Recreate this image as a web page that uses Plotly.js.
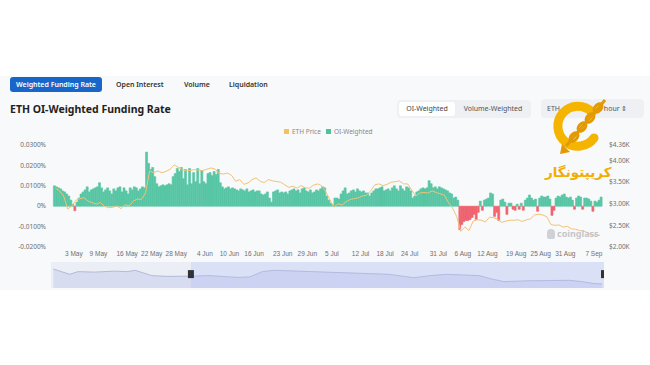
<!DOCTYPE html>
<html>
<head>
<meta charset="utf-8">
<script src="https://cdn.plot.ly/plotly-3.0.1.min.js"></script>
<style>
  html, body { margin:0; padding:0; width:650px; height:365px; background:#ffffff; overflow:hidden; font-family:"Noto Sans", "Inter", sans-serif; }
  #panel { position:absolute; left:0; top:76px; width:650px; height:214px; background:#f8f9fa; }
  #chart { position:absolute; left:0; top:0; width:650px; height:365px; }
  .ov { position:absolute; white-space:nowrap; }
  .tab { position:absolute; top:77px; height:15px; line-height:15px; font-size:7px; font-weight:600; color:#333; }
  #tab1 { left:10px; width:92px; background:#1866c9; color:#fff; border-radius:3px; text-align:center; }
  #title { left:10px; top:102px; font-size:10.5px; font-weight:700; color:#222; }
  #toggle { left:397px; top:100px; width:134px; height:18px; background:#eef0f3; border-radius:4px; }
  #tg1 { position:absolute; left:2px; top:2px; width:56px; height:14px; line-height:14px; background:#fff; border-radius:3px; font-size:7px; color:#444; text-align:center; }
  #tg2 { position:absolute; left:62px; top:2px; width:68px; height:14px; line-height:14px; font-size:7px; color:#555; text-align:center; }
  .sel { position:absolute; top:99px; height:19px; line-height:19px; background:#eef0f3; border-radius:4px; font-size:7px; color:#555; }
  #legend { left:284px; top:127px; font-size:6.5px; color:#888; }
  .sq { display:inline-block; width:5px; height:5px; vertical-align:middle; margin-right:3px; position:relative; top:-1px; }
  #brand { left:545px; top:165px; font-size:13.5px; line-height:14px; font-weight:700; color:#f2ae00; font-family:"DejaVu Sans", "Noto Sans", sans-serif; direction:rtl; }
  #cg { left:547px; top:227px; font-size:9px; font-weight:700; color:#c4c6c9; }
</style>
</head>
<body>
<div id="panel"></div>
<div id="chart"></div>

<div class="tab" id="tab1">Weighted Funding Rate</div>
<div class="tab" style="left:116px;">Open Interest</div>
<div class="tab" style="left:184px;">Volume</div>
<div class="tab" style="left:229px;">Liquidation</div>
<div class="ov" id="title">ETH OI-Weighted Funding Rate</div>
<div class="ov" id="toggle"><div id="tg1">OI-Weighted</div><div id="tg2">Volume-Weighted</div></div>
<div class="sel" style="left:541px; width:46px; padding-left:6px;">ETH</div>
<div class="sel" style="left:592px; width:46px; padding-left:6px;">8 hour &#8661;</div>
<div class="ov" id="legend"><span class="sq" style="background:#f3c063;"></span>ETH Price&nbsp;&nbsp;&nbsp;<span class="sq" style="background:#4cc29d;"></span>OI-Weighted</div>

<svg class="ov" style="left:548px; top:94px;" width="64" height="62" viewBox="0 0 64 62">
  <path d="M44 18 A20 20 0 1 0 46 44" fill="none" stroke="#f4b400" stroke-width="9" stroke-linecap="round"/>
  <g stroke="#e39a00" stroke-width="3" fill="none">
    <line x1="57" y1="6" x2="18" y2="52"/>
    <ellipse cx="50" cy="14" rx="5" ry="3" transform="rotate(-50 50 14)"/>
    <ellipse cx="42" cy="24" rx="5" ry="3" transform="rotate(-50 42 24)"/>
    <ellipse cx="34" cy="33" rx="5" ry="3" transform="rotate(-50 34 33)"/>
    <ellipse cx="26" cy="43" rx="5" ry="3" transform="rotate(-50 26 43)"/>
  </g>
  <polygon points="14,50 22,58 12,60" fill="#e39a00"/>
</svg>
<div class="ov" id="brand">کریپتونگار</div>
<div class="ov" id="cg"><span style="display:inline-block;width:8px;height:10px;background:#cfd1d4;border-radius:4px 4px 2px 2px;margin-right:2px;vertical-align:middle;position:relative;top:-1px;"></span>coinglass</div>

<script>
// ---- data ----
const fundingStart = '2024-04-28T06:00:00Z'; // first 12h bucket centre
const fundingRate = [
 0.0100,0.0095, 0.0090,0.0085, 0.0075,0.0070, 0.0060,0.0050, 0.0030,0.0010,
 -0.0022,0.0020, 0.0040,0.0060, 0.0070,0.0080, 0.0095,0.0070, 0.0080,0.0085,
 0.0090,0.0095, 0.0115,0.0090, 0.0070,0.0080, 0.0090,0.0075, 0.0060,0.0085,
 0.0075,0.0090, 0.0095,0.0070, 0.0090,0.0075, 0.0060,0.0090, 0.0080,0.0095,
 0.0090,0.0075, 0.0085,0.0095, 0.0090,0.0265, 0.0210,0.0180, 0.0190,0.0145,
 0.0110,0.0095, 0.0100,0.0105, 0.0100,0.0105, 0.0110,0.0105, 0.0145,0.0160,
 0.0185,0.0170, 0.0190,0.0135, 0.0180,0.0105, 0.0185,0.0110,
 0.0165,0.0120, 0.0185,0.0110, 0.0175,0.0120, 0.0110,0.0160, 0.0165,0.0150,
 0.0170,0.0155, 0.0180,0.0115, 0.0095,0.0085, 0.0090,0.0095, 0.0085,0.0090,
 0.0085,0.0080, 0.0075,0.0085, 0.0080,0.0075, 0.0085,0.0070, 0.0075,0.0080,
 0.0070,0.0075, 0.0075,0.0060, 0.0055,0.0060, 0.0070,0.0040, 0.0020,0.0070,
 0.0075,0.0080, 0.0065,0.0070, 0.0065,0.0070, 0.0060,0.0075, 0.0080,0.0085,
 0.0075,0.0080, 0.0065,0.0085, 0.0090,0.0075, 0.0070,0.0080, 0.0065,0.0070,
 0.0080,0.0075, 0.0085,0.0095, 0.0090,0.0050, 0.0030,0.0015, 0.0005,0.0040,
 0.0040,0.0035, 0.0060,0.0075, 0.0090,0.0060, 0.0065,0.0075, 0.0080,0.0070,
 0.0085,0.0075, 0.0070,0.0075, 0.0065,0.0065, 0.0050,0.0065, 0.0075,0.0085,
 0.0085,0.0090, 0.0095,0.0075, 0.0080,0.0085, 0.0075,0.0090, 0.0100,0.0085,
 0.0075,0.0100, 0.0085,0.0075, 0.0095,0.0090, 0.0075,0.0040, 0.0050,0.0070,
 0.0075,0.0085, 0.0090,0.0085, 0.0090,0.0125, 0.0110,0.0090, 0.0095,0.0085,
 0.0095,0.0090,
 0.0085,0.0080, 0.0075,0.0065, 0.0060,0.0040, 0.0045,0.0030, -0.0115,-0.0090,
 -0.0075,-0.0070, -0.0070,-0.0065, -0.0055,-0.0040, -0.0065,-0.0030, 0.0025,-0.0020,
 0.0030,0.0035, 0.0040,0.0065, 0.0060,-0.0050, -0.0030,-0.0070, 0.0030,0.0035,
 0.0020,-0.0040, 0.0015,0.0015, -0.0015,-0.0020, 0.0010,-0.0015, 0.0015,-0.0020,
 0.0030,0.0040, 0.0055,0.0040, 0.0030,0.0035, -0.0025,0.0040, 0.0050,0.0045,
 0.0045,0.0050, 0.0035,-0.0045, -0.0020,0.0040, 0.0050,0.0045, 0.0055,0.0060,
 0.0045,0.0040,
 0.0045,0.0030, -0.0015,0.0040, 0.0050,0.0045, -0.0015,0.0040, 0.0040,0.0035,
 0.0025,-0.0025, 0.0025,0.0020, 0.0030,0.0045
];
const priceStart = '2024-04-28T12:00:00Z';
const ethPrice = [
 3360,3300,3180,
 2880,2950,3080,3120,3140,3060,3020,2990,3030,2940,2910,2920,2950,2890,2980,2950,3060,3110,3100,3250,3760,3720,3760,3720,3750,3800,3900,3850,3790,3760,3770,
 3790,3780,3770,3800,3830,3800,3700,3690,3710,3660,3520,3560,3450,3480,3560,3600,3520,3490,3560,3530,3520,3500,3440,3380,3410,3360,3420,3370,3360,3430,
 3460,3420,3280,3080,2920,3000,2970,3050,3100,3120,3140,3180,3200,3300,3440,3460,3420,3450,3500,3510,3530,3460,3460,3320,3180,3250,3260,3250,3300,3260,3230,
 3200,3020,2900,2700,2360,2460,2380,2600,2630,2620,2580,2690,2680,2640,2570,2600,2620,2620,2630,2590,2630,2650,2740,2760,2740,2700,2520,2500,2510,2460,2480,
 2420,2410,2380,2370,2330,2270,2280,2270
];
const sliderDates = ['2024-04-28','2024-04-30','2024-05-02','2024-05-04','2024-05-08','2024-05-13','2024-05-16','2024-05-18','2024-05-20','2024-05-22','2024-05-26','2024-05-31',
 '2024-06-02','2024-06-05','2024-06-09','2024-06-12','2024-06-15','2024-06-18','2024-06-21','2024-06-25','2024-07-01','2024-07-07','2024-07-13','2024-07-19','2024-07-25','2024-07-29',
 '2024-08-02','2024-08-06','2024-08-10','2024-08-13','2024-08-16','2024-08-22','2024-08-28','2024-09-01','2024-09-04','2024-09-07','2024-09-09'];
const sliderTrend = [19,16.4,13.7,16.4,15.9,16.9,16.4,17.7,15,12.4,11.6,12.4,
 12,12.4,11.1,10.6,11.1,16.4,17.7,17.2,16.4,15.9,15,13.7,10.3,12.4,
 13.7,13.2,12.4,9,6.4,7.2,7.2,7.7,6.4,4.5,4];
const xTickDates = ['2024-05-03','2024-05-09','2024-05-16','2024-05-22','2024-05-28','2024-06-04','2024-06-10','2024-06-16','2024-06-23','2024-06-29',
 '2024-07-05','2024-07-12','2024-07-18','2024-07-24','2024-07-31','2024-08-06','2024-08-12','2024-08-19','2024-08-25','2024-08-31','2024-09-07'];
const xTickLabels = ['3 May','9 May','16 May','22 May','28 May','4 Jun','10 Jun','16 Jun','23 Jun','29 Jun',
 '5 Jul','12 Jul','18 Jul','24 Jul','31 Jul','6 Aug','12 Aug','19 Aug','25 Aug','31 Aug','7 Sep'];
const rateTicks = [0.03, 0.02, 0.01, 0, -0.01, -0.02];
const rateTickLabels = ['0.0300%','0.0200%','0.0100%','0%','-0.0100%','-0.0200%'];
const priceTicks = [4360, 4000, 3500, 3000, 2500, 2000];
const priceTickLabels = ['$4.36K','$4.00K','$3.50K','$3.00K','$2.50K','$2.00K'];
const viewStart = '2024-04-27 10:00';
const viewEnd = '2024-09-09 11:00';
const windowStart = '2024-05-31 14:00';

// ---- build ----
const H12 = 12*3600*1000, D1 = 24*3600*1000;
const t0 = Date.parse(fundingStart), p0 = Date.parse(priceStart);
const iso = ms => new Date(ms).toISOString().replace('T',' ').slice(0,19);
const fx = fundingRate.map((v,i) => iso(t0 + i*H12));
const px = ethPrice.map((v,i) => iso(p0 + i*D1));
const green = '#58c6a4', red = '#ee6470';
const barColors = fundingRate.map(v => v >= 0 ? green : red);

const traces = [
  { type:'bar', x:fx, y:fundingRate, width:H12, name:'OI-Weighted',
    marker:{ color: barColors, line:{width:0.6, color:barColors} },
    xaxis:'x', yaxis:'y', hoverinfo:'skip' },
  { type:'scatter', mode:'lines', x:px, y:ethPrice, name:'ETH Price',
    line:{ color:'#f3c275', width:1 }, xaxis:'x', yaxis:'y2', hoverinfo:'skip' },
  { type:'scatter', mode:'lines', x:sliderDates, y:sliderTrend, fill:'tozeroy',
    fillcolor:'rgba(200,206,236,0.55)', line:{ color:'#b3b9d8', width:1 },
    xaxis:'x3', yaxis:'y3', hoverinfo:'skip' }
];

const tickFont = { family:'Noto Sans, sans-serif', size:6.5, color:'#6d6f73' };
const xTickFont = { family:'Liberation Sans Narrow, Liberation Sans, sans-serif', size:6.5, color:'#6d6f73' };
const layout = {
  width:650, height:365,
  margin:{ l:51, r:46, t:0, b:0, pad:0 },
  paper_bgcolor:'rgba(0,0,0,0)', plot_bgcolor:'rgba(0,0,0,0)',
  showlegend:false, bargap:0,
  xaxis:{ type:'date', range:[viewStart, viewEnd], anchor:'y', domain:[0,1],
    tickmode:'array', tickvals:xTickDates, ticktext:xTickLabels, tickfont:xTickFont, tickangle:0,
    showgrid:false, zeroline:false, showline:false, ticks:'', ticklabelstandoff:2, fixedrange:true },
  yaxis:{ range:[-0.02, 0.03], domain:[0.3233, 0.6027], tickmode:'array',
    tickvals:rateTicks, ticktext:rateTickLabels, tickfont:tickFont,
    showgrid:false, zeroline:false, showline:false, ticks:'', ticklabelstandoff:4 },
  yaxis2:{ overlaying:'y', side:'right', range:[2000, 4360], tickmode:'array',
    tickvals:priceTicks, ticktext:priceTickLabels, tickfont:tickFont,
    showgrid:false, zeroline:false, showline:false, ticks:'', ticklabelstandoff:4 },
  xaxis3:{ type:'date', range:[viewStart, viewEnd], anchor:'y3', domain:[0,1], visible:false },
  yaxis3:{ range:[0, 26], domain:[0.211, 0.282], visible:false },
  shapes:[
    { type:'rect', xref:'paper', yref:'paper', x0:0, x1:1, y0:0.211, y1:0.282,
      fillcolor:'#eceef6', line:{width:0}, layer:'below' },
    { type:'rect', xref:'x3', yref:'paper', x0:windowStart, x1:viewEnd, y0:0.211, y1:0.282,
      fillcolor:'rgba(176,192,246,0.30)', line:{width:0}, layer:'above' },
    { type:'rect', xref:'x3', yref:'paper', xsizemode:'pixel', xanchor:windowStart, x0:-3, x1:3,
      ysizemode:'pixel', yanchor:0.249, y0:-4, y1:4, fillcolor:'#2f3137', line:{width:0} },
    { type:'rect', xref:'x3', yref:'paper', xsizemode:'pixel', xanchor:viewEnd, x0:-3, x1:3,
      ysizemode:'pixel', yanchor:0.249, y0:-4, y1:4, fillcolor:'#2f3137', line:{width:0} }
  ]
};
Plotly.newPlot('chart', traces, layout, { staticPlot:true, displayModeBar:false });
</script>
</body>
</html>
